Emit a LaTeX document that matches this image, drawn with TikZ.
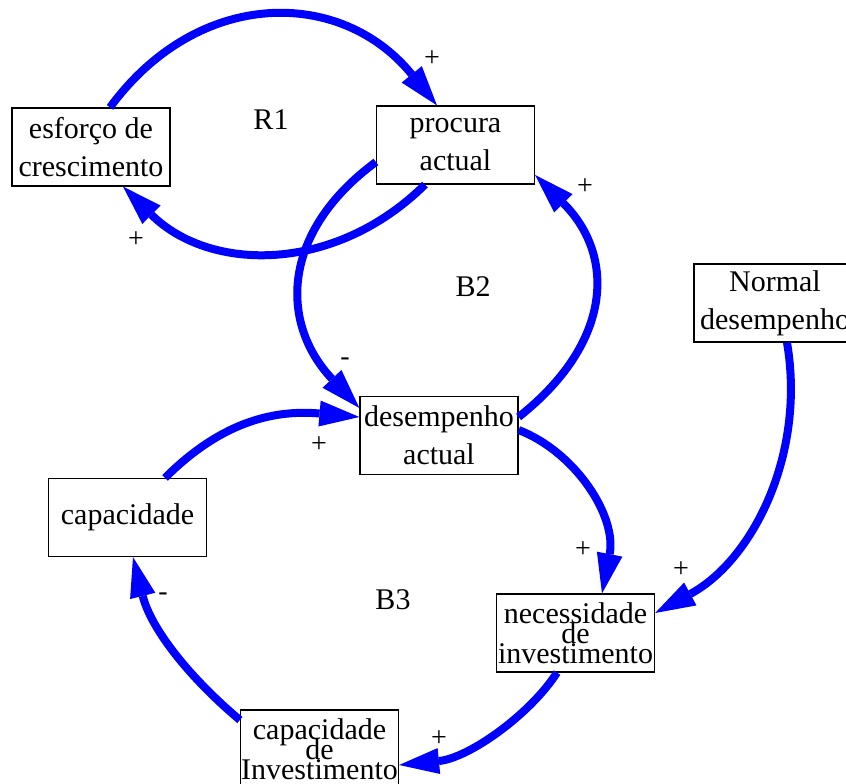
\documentclass[tikz,border=0pt]{standalone}
\usepackage{fontspec}
\setmainfont{Liberation Serif}
\usetikzlibrary{arrows.meta}
% three-line labels set with overlapping lines
\newcommand{\tightlines}{\fontsize{30}{20}\selectfont\setlength{\lineskiplimit}{-100pt}\setlength{\lineskip}{0pt}}
\begin{document}
\begin{tikzpicture}[x=1pt,y=-1pt,
  var/.style={draw, line width=1.2pt, minimum width=158pt, minimum height=78pt,
    inner sep=0pt, align=center, font=\fontsize{30}{38}\selectfont},
  var3/.style={var, font=\tightlines},
  link/.style={draw=blue, line width=8pt,
    -{Triangle[length=40pt,width=26pt,line width=0pt]}},
  sign/.style={inner sep=0pt, font=\fontsize{28}{30}\selectfont},
  looplabel/.style={inner sep=0pt, font=\fontsize{30}{34}\selectfont}]
\useasboundingbox (0,0) rectangle (846,784);

% variables
\node[var] (esf) at (91,147) {esforço de\\crescimento};
\node[var] (proc) at (455.5,145) {procura\\actual};
\node[var] (des) at (439,435.5) {desempenho\\actual};
\node[var, minimum width=162pt] (norm) at (775,303) {Normal\\desempenho};
\node[var3] (nec) at (575.5,633) {necessidade\\de\\investimento};
\node[var] (cap) at (127.5,517.5) {capacidade};
\node[var3] (capinv) at (319.5,749) {capacidade\\de\\Investimento};

% loop labels
\node[looplabel] (r1) at (271,120) {R1};
\node[looplabel] (b2) at (473,287) {B2};
\node[looplabel] (b3) at (393,600) {B3};

% causal links
\draw[link] ([xshift=19pt]esf.north) .. controls +(88,-120) and +(-96,-118) .. ([xshift=-18.5pt]proc.north);
\draw[link] ([xshift=-30.5pt]proc.south) .. controls +(-90,89) and +(87,86) .. ([xshift=32pt]esf.south);
\draw[link] ([yshift=-17pt]proc.west) .. controls +(-95,70) and +(-80,-85) .. ([yshift=27.5pt]des.west);
\draw[link] ([yshift=18.5pt]des.east) .. controls +(95,-75) and +(80,80) .. ([yshift=-30pt]proc.east);
\draw[link] ([xshift=37.5pt]cap.north) .. controls +(60,-60) and +(-80,-7) .. ([yshift=18.5pt]des.west);
\draw[link] ([yshift=5.5pt]des.east) .. controls +(57,22) and +(15,-77) .. ([xshift=26.5pt]nec.north);
\draw[link] ([xshift=12pt]norm.south) .. controls +(19,111) and +(98,-53) .. ([yshift=20pt]nec.east);
\draw[link] ([xshift=-18.5pt]nec.south) .. controls +(-27,42) and +(70,-7) .. ([yshift=-16pt]capinv.east);
\draw[link] ([yshift=29pt]capinv.west) .. controls +(-50,-42) and +(18,72) .. ([xshift=5.5pt]cap.south);

% polarities
\node[sign] (p1) at (432,59) {+};
\node[sign] (p2) at (136,240) {+};
\node[sign] (p3) at (585,187) {+};
\node[sign] (p4) at (345,362) {-};
\node[sign] (p5) at (319,445) {+};
\node[sign] (p6) at (583,550) {+};
\node[sign] (p7) at (681,570) {+};
\node[sign] (p8) at (163,597) {-};
\node[sign] (p9) at (439,739) {+};
\end{tikzpicture}
\end{document}
